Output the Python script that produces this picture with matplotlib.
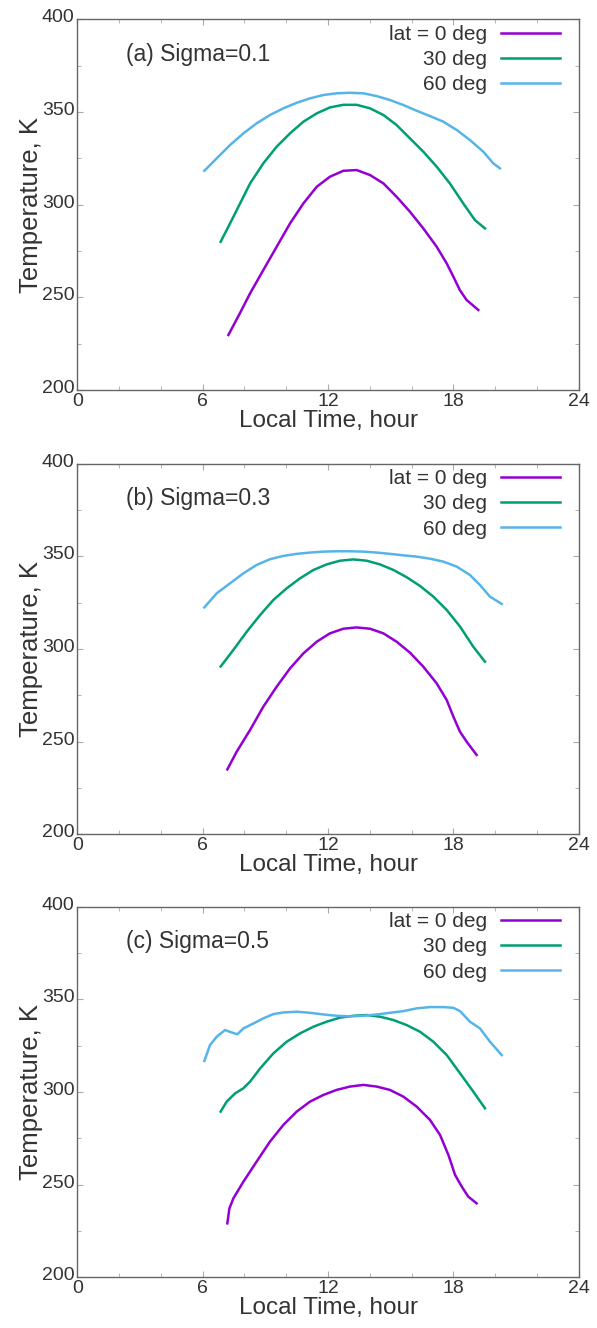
import matplotlib.pyplot as plt
from matplotlib.ticker import MultipleLocator
from matplotlib.transforms import ScaledTranslation

plt.rcParams['font.family'] = ['Liberation Sans', 'DejaVu Sans']

colors = ['#9400d3', '#009e73', '#56b4e9']
labels = ['lat = 0 deg', '30 deg', '60 deg']
titles = ['(a) Sigma=0.1', '(b) Sigma=0.3', '(c) Sigma=0.5']

# (a) Sigma=0.1
a_lt0 = [7.23, 7.78, 8.27, 8.90, 9.54, 10.18, 10.82, 11.46, 12.09, 12.73, 13.37, 14.01, 14.65, 15.28,
         15.92, 16.56, 17.20, 17.68, 18.0, 18.31, 18.63, 19.19]
a_t0 = [229.7, 241.4, 252.2, 264.7, 277.3, 289.9, 300.7, 309.7, 315.1, 318.3, 318.7, 316.0, 311.5, 304.3,
        296.2, 287.2, 277.3, 268.3, 261.1, 253.9, 248.6, 243.2]
a_lt30 = [6.86, 7.31, 7.79, 8.27, 8.90, 9.54, 10.18, 10.82, 11.46, 12.09, 12.73, 13.37, 14.01, 14.65,
          15.28, 15.92, 16.56, 17.20, 17.83, 18.47, 19.03, 19.51]
a_t30 = [280.0, 289.9, 300.7, 311.5, 322.3, 331.3, 338.5, 344.8, 349.3, 352.5, 353.9, 353.9, 352.0, 348.4,
         343.0, 335.8, 328.6, 320.5, 311.5, 300.7, 291.7, 287.2]
a_lt60 = [6.08, 6.67, 7.31, 7.95, 8.58, 9.22, 9.86, 10.50, 11.14, 11.78, 12.41, 13.05, 13.69, 14.33,
          14.96, 15.6, 16.24, 16.88, 17.52, 18.16, 18.79, 19.43, 19.91, 20.23]
a_t60 = [318.3, 325.0, 332.2, 338.5, 343.9, 348.4, 352.0, 355.0, 357.4, 359.2, 360.1, 360.4, 360.1, 358.6,
         356.5, 353.8, 350.7, 347.8, 344.8, 340.3, 334.9, 328.6, 322.3, 319.6]

# (b) Sigma=0.3
b_lt0 = [7.18, 7.63, 8.27, 8.90, 9.54, 10.18, 10.82, 11.46, 12.09, 12.73, 13.37, 14.01, 14.65, 15.28,
         15.92, 16.56, 17.20, 17.68, 18.0, 18.31, 18.63, 19.11]
b_t0 = [235.0, 244.6, 256.3, 268.8, 279.6, 289.5, 297.6, 303.9, 308.4, 310.9, 311.6, 310.9, 308.4, 303.9,
        298.0, 290.4, 281.4, 272.4, 263.4, 255.4, 250.0, 242.8]
b_lt30 = [6.86, 7.47, 8.11, 8.75, 9.38, 10.02, 10.66, 11.30, 11.93, 12.57, 13.21, 13.85, 14.49, 15.13,
          15.76, 16.4, 17.04, 17.68, 18.32, 18.95, 19.51]
b_t30 = [290.5, 299.5, 309.3, 318.3, 326.4, 332.7, 338.1, 342.6, 345.6, 347.6, 348.3, 347.6, 345.6, 342.6,
         338.7, 334.0, 328.2, 321.0, 312.0, 301.2, 293.1]
b_lt60 = [6.08, 6.67, 7.31, 7.95, 8.58, 9.22, 9.86, 10.50, 11.14, 11.78, 12.41, 13.05, 13.69, 14.33,
          14.96, 15.6, 16.24, 16.88, 17.52, 18.16, 18.79, 19.27, 19.75, 20.31]
b_t60 = [322.4, 330.0, 335.4, 340.8, 345.3, 348.4, 350.2, 351.3, 352.0, 352.5, 352.7, 352.7, 352.5, 352.0,
         351.3, 350.5, 349.8, 348.7, 347.1, 344.4, 339.9, 334.5, 328.2, 324.3]

# (c) Sigma=0.5
c_lt0 = [7.18, 7.28, 7.47, 7.95, 8.58, 9.22, 9.86, 10.50, 11.14, 11.78, 12.41, 13.05, 13.69, 14.33,
         14.96, 15.6, 16.24, 16.88, 17.36, 17.76, 18.08, 18.40, 18.71, 19.11]
c_t0 = [229.1, 237.2, 242.6, 251.6, 262.4, 273.2, 282.2, 289.4, 294.8, 298.4, 301.1, 302.9, 303.8, 302.9,
        301.1, 297.5, 292.1, 284.9, 276.8, 266.0, 255.2, 248.9, 243.5, 239.9]
c_lt30 = [6.86, 7.15, 7.55, 7.95, 8.27, 8.75, 9.38, 10.02, 10.66, 11.30, 11.93, 12.57, 13.21, 13.85,
          14.49, 15.13, 15.76, 16.4, 17.04, 17.68, 18.32, 18.95, 19.51]
c_t30 = [289.4, 294.8, 299.2, 302.0, 305.6, 312.7, 320.8, 327.1, 331.6, 335.2, 337.9, 340.1, 341.1, 341.5,
         340.6, 338.8, 336.1, 332.5, 327.1, 319.9, 310.0, 300.2, 291.2]
c_lt60 = [6.08, 6.35, 6.67, 7.07, 7.39, 7.66, 7.95, 8.44, 8.90, 9.38, 9.86, 10.50, 11.14, 11.78, 12.41,
          13.05, 13.69, 14.33, 14.96, 15.6, 16.24, 16.88, 17.52, 18.0, 18.32, 18.79, 19.27, 19.75, 20.31]
c_t60 = [316.7, 325.3, 329.8, 333.4, 332.1, 331.1, 334.3, 337.0, 339.7, 342.0, 342.9, 343.3, 342.7, 341.8,
         341.1, 340.8, 341.1, 341.8, 342.7, 343.6, 345.1, 345.8, 345.8, 345.4, 343.6, 337.9, 334.3, 327.1,
         319.9]

panels = [
    [(a_lt0, a_t0), (a_lt30, a_t30), (a_lt60, a_t60)],
    [(b_lt0, b_t0), (b_lt30, b_t30), (b_lt60, b_t60)],
    [(c_lt0, c_t0), (c_lt30, c_t30), (c_lt60, c_t60)],
]

fig = plt.figure(figsize=(5.97, 13.28), dpi=100)
bottoms = [0.7063, 0.3718, 0.0382]
lift = ScaledTranslation(0, 2.5 / 72, fig.dpi_scale_trans)

for panel, title, bottom in zip(panels, titles, bottoms):
    ax = fig.add_axes([0.1295, bottom, 0.840, 0.2791])
    for (lt, temp), c, lab in zip(panel, colors, labels):
        ax.plot(lt, temp, color=c, lw=1.8, label=lab)
    ax.set_xlim(0, 24)
    ax.set_ylim(200, 400)
    ax.xaxis.set_major_locator(MultipleLocator(6))
    ax.xaxis.set_minor_locator(MultipleLocator(2))
    ax.yaxis.set_major_locator(MultipleLocator(50))
    ax.yaxis.set_minor_locator(MultipleLocator(25))
    ax.tick_params(which='both', direction='in', top=True, right=True,
                   color='#aaaaaa', labelsize=14, labelcolor='#333333')
    ax.tick_params(axis='y', pad=2)
    ax.tick_params(axis='x', pad=2)
    ax.tick_params(which='major', length=4)
    ax.tick_params(which='minor', length=3)
    # gnuplot-style: y labels sit slightly above their ticks
    for lbl in ax.get_yticklabels():
        lbl.set_transform(lbl.get_transform() + lift)
    for s in ax.spines.values():
        s.set_color('#666666')
        s.set_linewidth(1.0)
    ax.set_xlabel('Local Time, hour', fontsize=17.5, color='#333333', labelpad=0)
    ax.set_ylabel('Temperature, K', fontsize=18.5, color='#333333', labelpad=-1)
    ax.text(0.097, 0.906, title, transform=ax.transAxes, fontsize=16.5,
            color='#333333', va='center')
    ax.legend(loc='upper right', bbox_to_anchor=(0.9625, 0.985), frameon=False,
              markerfirst=False, fontsize=15, handlelength=2.85,
              handletextpad=0.67, labelspacing=0.3, borderpad=0, borderaxespad=0,
              labelcolor='#333333')

fig.savefig('out.png', dpi=100)
